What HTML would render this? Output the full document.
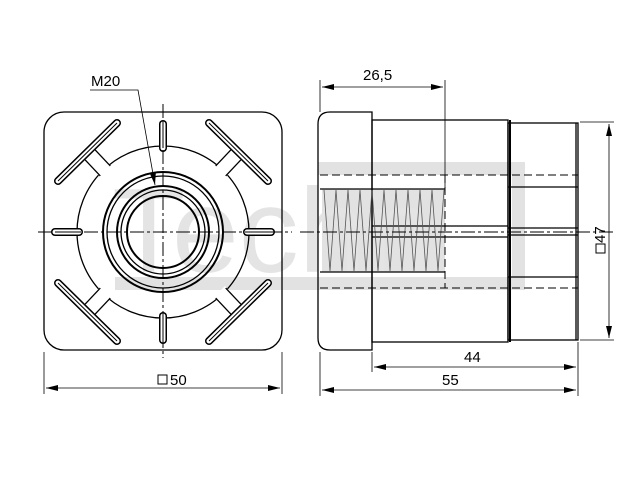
<!DOCTYPE html>
<html><head><style>html,body{margin:0;padding:0;background:#fff}svg{display:block}</style></head><body>
<svg width="640" height="480" viewBox="0 0 640 480" xmlns="http://www.w3.org/2000/svg" font-family="Liberation Sans, sans-serif">
<defs>
<marker id="a" markerWidth="12" markerHeight="6" refX="12" refY="3" orient="auto" markerUnits="userSpaceOnUse"><path d="M0,0L12,3L0,6z" fill="#000"/></marker>
<marker id="as" markerWidth="12" markerHeight="6" refX="0" refY="3" orient="auto" markerUnits="userSpaceOnUse"><path d="M12,0L0,3L12,6z" fill="#000"/></marker>
</defs>
<!-- watermark -->
<g fill="#e2e2e2">
<rect x="318" y="162" width="207" height="13"/>
<rect x="115" y="277" width="410" height="13"/>
<rect x="512" y="162" width="13" height="128"/>
<rect x="322" y="189" width="123" height="83"/>
<text x="112" y="272" font-size="120" fill="#e4e4e4">Techn</text>
</g>
<g fill="none" stroke="#000" stroke-width="1.3">
<!-- left view -->
<rect x="44" y="112" width="238" height="238" rx="20"/>
<circle cx="163" cy="232" r="86"/>
<circle cx="163" cy="232" r="60" stroke-width="2"/>
<circle cx="163" cy="232" r="56"/>
<circle cx="163" cy="232" r="46" stroke-width="2"/>
<circle cx="163" cy="232" r="42"/>
<circle cx="163" cy="232" r="36" stroke-width="2"/>
<g id="ds">
<polygon points="92,146 82,156 101,178 112,167" fill="#fff" stroke="none"/>
<line x1="85.2" y1="159.9" x2="100.3" y2="175.9"/>
<line x1="95.2" y1="149.9" x2="110.3" y2="165.9"/>
<line x1="58" y1="181" x2="117" y2="123" stroke-width="8" stroke-linecap="round"/>
<line x1="58" y1="181" x2="117" y2="123" stroke-width="5" stroke-linecap="round" stroke="#fff"/>
<line x1="58" y1="181" x2="117" y2="123" stroke-width="1"/>
</g>
<use href="#ds" transform="matrix(-1 0 0 1 326 0)"/>
<use href="#ds" transform="matrix(1 0 0 -1 0 464)"/>
<use href="#ds" transform="matrix(-1 0 0 -1 326 464)"/>
<g id="vs">
<line x1="163" y1="124" x2="163" y2="148" stroke-width="8" stroke-linecap="round"/>
<line x1="163" y1="124" x2="163" y2="148" stroke-width="5" stroke="#fff" stroke-linecap="round"/>
<line x1="163" y1="124" x2="163" y2="148" stroke-width="1"/>
</g>
<use href="#vs" transform="rotate(90 163 232)"/>
<use href="#vs" transform="rotate(180 163 232)"/>
<use href="#vs" transform="rotate(270 163 232)"/>
<!-- right view -->
<path d="M372,112 H330 Q318,112 318,124 V338 Q318,350 330,350 H372 Z"/>
<rect x="372" y="120" width="136" height="222"/>
<rect x="508" y="123" width="70" height="217"/>
<line x1="510" y1="120" x2="510" y2="342" stroke-width="2"/>
<line x1="508" y1="187" x2="578" y2="187"/>
<line x1="508" y1="277" x2="578" y2="277"/>
<line x1="576" y1="123" x2="576" y2="340"/>
<line x1="372" y1="226" x2="508" y2="226"/>
<line x1="372" y1="237" x2="508" y2="237"/>
<line x1="508" y1="228" x2="578" y2="228"/>
<line x1="508" y1="235" x2="578" y2="235"/>
<line x1="320" y1="189" x2="445" y2="189"/>
<line x1="320" y1="272" x2="445" y2="272"/>
</g>
<!-- thread -->
<g stroke="#555" stroke-width="0.8" fill="none">
<path d="M324,190 L330,271 L336,190 L342,271 L348,190 L354,271 L360,190 L366,271 L372,190 L378,271 L384,190 L390,271 L396,190 L402,271 L408,190 L414,271 L420,190 L426,271 L432,190 L438,271 L444,190"/>
</g>
<!-- dashed / center lines -->
<g stroke="#000" stroke-width="1" stroke-dasharray="14,3,3,3" fill="none">
<line x1="38" y1="232" x2="292" y2="232"/>
<line x1="163" y1="104" x2="163" y2="358"/>
<line x1="300" y1="232" x2="616" y2="232"/>
</g>
<g stroke="#000" stroke-width="1" stroke-dasharray="8,4" fill="none">
<line x1="320" y1="175" x2="578" y2="175"/>
<line x1="320" y1="288" x2="578" y2="288"/>
<line x1="445" y1="175" x2="445" y2="288"/>
</g>
<!-- dimensions -->
<g stroke="#000" stroke-width="0.8" fill="none">
<line x1="44" y1="352" x2="44" y2="394"/>
<line x1="282" y1="352" x2="282" y2="394"/>
<line x1="46" y1="388" x2="280" y2="388" marker-start="url(#as)" marker-end="url(#a)"/>
<line x1="320" y1="80" x2="320" y2="112"/>
<line x1="320" y1="352" x2="320" y2="396"/>
<line x1="445" y1="80" x2="445" y2="189"/>
<line x1="322" y1="87" x2="443" y2="87" marker-start="url(#as)" marker-end="url(#a)"/>
<line x1="372" y1="352" x2="372" y2="372"/>
<line x1="578" y1="342" x2="578" y2="396"/>
<line x1="374" y1="367" x2="576" y2="367" marker-start="url(#as)" marker-end="url(#a)"/>
<line x1="322" y1="390" x2="576" y2="390" marker-start="url(#as)" marker-end="url(#a)"/>
<line x1="580" y1="122" x2="614" y2="122"/>
<line x1="580" y1="340" x2="614" y2="340"/>
<line x1="609" y1="124" x2="609" y2="338" marker-start="url(#as)" marker-end="url(#a)"/>
<path d="M90,90 H138 L155,185" marker-end="url(#a)"/>
</g>
<g font-size="15" fill="#000">
<text x="91" y="86">M20</text>
<text x="363" y="80">26,5</text>
<text x="464" y="362">44</text>
<text x="442" y="385">55</text>
<text x="170" y="385">50</text>
<rect x="158" y="375" width="9" height="9" fill="none" stroke="#000" stroke-width="1"/>
<text transform="translate(605 243) rotate(-90)">47</text>
<rect x="596" y="244" width="9" height="9" fill="none" stroke="#000" stroke-width="1"/>
</g>
</svg>
</body></html>
